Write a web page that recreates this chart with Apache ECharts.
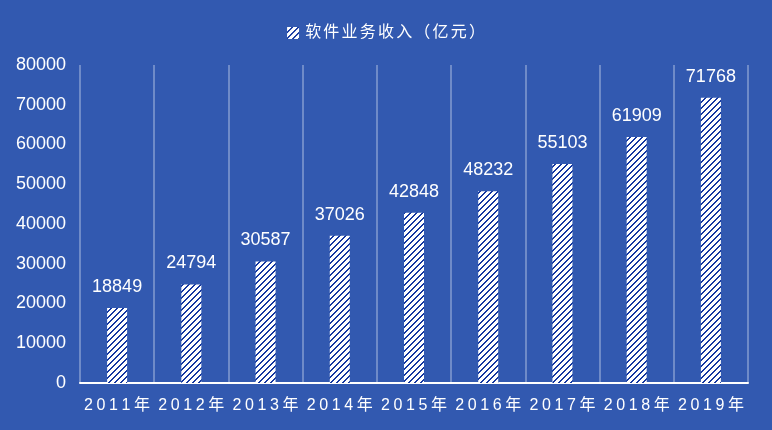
<!DOCTYPE html>
<html><head><meta charset="utf-8">
<script src="https://cdn.jsdelivr.net/npm/echarts@6/dist/echarts.min.js"></script>
<style>html,body{margin:0;padding:0;background:#3259B0;}#c{width:772px;height:430px;}</style>
</head><body><div id="c"></div>
<script>
var categories = ['2011年','2012年','2013年','2014年','2015年','2016年','2017年','2018年','2019年'];
var values = [18849, 24794, 30587, 37026, 42848, 48232, 55103, 61909, 71768];
var seriesName = '软件业务收入（亿元）';

function makePattern(){
  var c = document.createElement('canvas');
  c.width = 6; c.height = 6;
  var ctx = c.getContext('2d');
  ctx.fillStyle = '#ffffff';
  ctx.fillRect(0,0,6,6);
  ctx.fillStyle = '#1437a0';
  for (var y=0;y<6;y++){
    for (var x=0;x<6;x++){
      var m = (x + y) % 6;
      if (m === 4 || m === 5) ctx.fillRect(x, y, 1, 1);
    }
  }
  return c;
}
function spaced(str, style){
  return Array.from(str).map(function(ch){ return '{' + style + '|' + ch + '}'; }).join('');
}
var pat = {image: makePattern(), repeat: 'repeat'};
var font = '"Liberation Sans", "Noto Sans CJK SC", sans-serif';
var chart = echarts.init(document.getElementById('c'));
chart.setOption({
  backgroundColor: '#3259B0',
  animation: false,
  textStyle: {fontFamily: font},
  legend: {
    top: 20, left: 'center', itemWidth: 12, itemHeight: 12, itemGap: 6,
    formatter: function(n){ return spaced(n, 'c'); },
    textStyle: {color: '#fff', fontSize: 16, fontFamily: font,
      rich: {c: {color: '#fff', fontSize: 16, fontFamily: font, padding: [0, 1.1, 0, 1.1]}}},
    data: [{name: seriesName, icon: 'rect', itemStyle: {color: pat}}]
  },
  grid: {left: 80, right: 24, top: 65, bottom: 47},
  xAxis: {
    type: 'category', data: categories,
    axisLine: {lineStyle: {color: '#fff', width: 2}},
    axisTick: {show: false},
    axisLabel: {interval: 0, color: '#fff', fontSize: 16, margin: 15, fontFamily: font,
      formatter: function(v){ return spaced(v, 'c'); },
      rich: {c: {color: '#fff', fontSize: 16, fontFamily: font, padding: [0, 1.8, 0, 1.8]}}},
    splitLine: {show: true, interval: 0, lineStyle: {color: 'rgba(255,255,255,0.3)', width: 2}}
  },
  yAxis: {
    type: 'value', min: 0, max: 80000, interval: 10000,
    axisLine: {show: false}, axisTick: {show: false},
    splitLine: {show: false},
    axisLabel: {color: '#fff', fontSize: 18, margin: 14, fontFamily: font,
      formatter: function(v){ return String(v); }}
  },
  series: [{
    name: seriesName, type: 'bar', data: values, barWidth: 20,
    itemStyle: {color: pat},
    label: {show: true, position: 'top', distance: 12, color: '#fff', fontSize: 18, fontFamily: font}
  }]
});
</script></body></html>
